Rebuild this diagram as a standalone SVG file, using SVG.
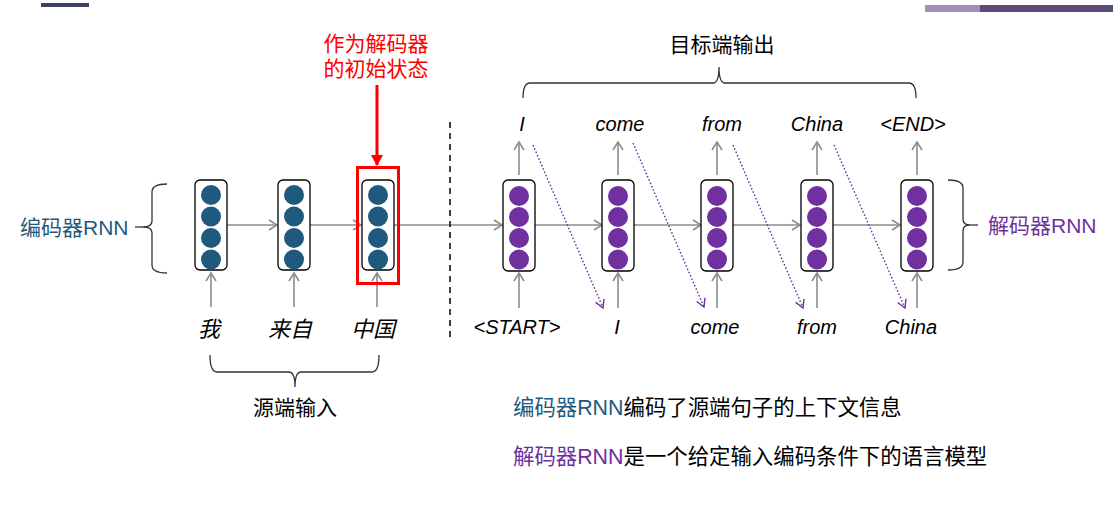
<svg xmlns="http://www.w3.org/2000/svg" width="1113" height="506" viewBox="0 0 1113 506">
<defs>
<style>
.box{fill:#fff;stroke:#000;stroke-width:1.3}
.enc{fill:#1F5A7E}
.dec{fill:#7030A0}
.ga{stroke:#8C8C8C;stroke-width:1.6;fill:none;marker-end:url(#ga)}
.pa{stroke:#7030A0;stroke-width:1.4;stroke-dasharray:1.6 2;fill:none;marker-end:url(#pa)}
.brace{stroke:#333;stroke-width:1.3;fill:none}
.cjk{font-family:"Liberation Sans","Noto Sans CJK SC",sans-serif;font-size:21px}
.big{font-size:21.4px}
.en{font-family:"Liberation Sans","Noto Sans CJK SC",sans-serif;font-size:20px;font-style:italic;text-anchor:middle}
.zh{font-family:"Noto Sans CJK SC",sans-serif;font-size:22px;font-style:italic;text-anchor:middle}
</style>
<marker id="ga" markerWidth="12" markerHeight="12" refX="9" refY="6" orient="auto" markerUnits="userSpaceOnUse">
<path d="M1,1 L9,6 L1,11" fill="none" stroke="#8C8C8C" stroke-width="1.6"/>
</marker>
<marker id="pa" markerWidth="12" markerHeight="12" refX="9" refY="6" orient="auto" markerUnits="userSpaceOnUse">
<path d="M1,1.5 L9,6 L1,10.5" fill="none" stroke="#7030A0" stroke-width="1.4"/>
</marker>
<marker id="ra" markerWidth="14" markerHeight="14" refX="10" refY="7" orient="auto" markerUnits="userSpaceOnUse">
<path d="M0,1 L11,7 L0,13 Z" fill="#FF0000"/>
</marker>
</defs>
<rect x="41" y="3" width="48" height="4" fill="#3B4262"/>
<rect x="925" y="5" width="55" height="7" fill="#A58CBA"/>
<rect x="980" y="5" width="133" height="7" fill="#5C4A7A"/>

<g id="connectors">
<line class="ga" x1="227" y1="225" x2="277" y2="225"/>
<line class="ga" x1="310" y1="225" x2="361" y2="225"/>
<line class="ga" x1="394" y1="225" x2="502" y2="225"/>
<line class="ga" x1="535" y1="225" x2="602" y2="225"/>
<line class="ga" x1="634" y1="225" x2="701" y2="225"/>
<line class="ga" x1="733" y1="225" x2="800" y2="225"/>
<line class="ga" x1="833" y1="225" x2="900" y2="225"/>
<line class="ga" x1="211" y1="307" x2="211" y2="273"/>
<line class="ga" x1="294" y1="307" x2="294" y2="273"/>
<line class="ga" x1="377" y1="307" x2="377" y2="273"/>
<line class="ga" x1="519" y1="308" x2="519" y2="273"/>
<line class="ga" x1="618" y1="308" x2="618" y2="273"/>
<line class="ga" x1="717" y1="308" x2="717" y2="273"/>
<line class="ga" x1="817" y1="308" x2="817" y2="273"/>
<line class="ga" x1="917" y1="308" x2="917" y2="273"/>
<line class="ga" x1="519" y1="175" x2="519" y2="142"/>
<line class="ga" x1="618" y1="175" x2="618" y2="142"/>
<line class="ga" x1="717" y1="175" x2="717" y2="142"/>
<line class="ga" x1="817" y1="175" x2="817" y2="142"/>
<line class="ga" x1="917" y1="175" x2="917" y2="142"/>
<line class="pa" x1="533" y1="145" x2="603" y2="308"/>
<line class="pa" x1="633" y1="143" x2="704" y2="307"/>
<line class="pa" x1="733" y1="145" x2="803" y2="308"/>
<line class="pa" x1="834" y1="145" x2="905" y2="308"/>
<line x1="450" y1="122" x2="450" y2="338" stroke="#000" stroke-width="1.5" stroke-dasharray="6 5"/>
<line x1="377" y1="85" x2="377" y2="165" stroke="#FF0000" stroke-width="3" marker-end="url(#ra)"/>
</g>

<g id="enc1"><rect class="box" x="195" y="180" width="32" height="90" rx="5"/>
<circle class="enc" cx="211" cy="195" r="10"/><circle class="enc" cx="211" cy="216.5" r="10"/><circle class="enc" cx="211" cy="238" r="10"/><circle class="enc" cx="211" cy="259.5" r="10"/></g>
<g id="enc2"><rect class="box" x="278" y="180" width="32" height="90" rx="5"/>
<circle class="enc" cx="294" cy="195" r="10"/><circle class="enc" cx="294" cy="216.5" r="10"/><circle class="enc" cx="294" cy="238" r="10"/><circle class="enc" cx="294" cy="259.5" r="10"/></g>
<g id="enc3"><rect class="box" x="362" y="180" width="32" height="90" rx="5"/>
<circle class="enc" cx="378" cy="195" r="10"/><circle class="enc" cx="378" cy="216.5" r="10"/><circle class="enc" cx="378" cy="238" r="10"/><circle class="enc" cx="378" cy="259.5" r="10"/>
<rect x="357.5" y="167.5" width="41" height="116" fill="none" stroke="#FF0000" stroke-width="3"/></g>

<g id="dec1"><rect class="box" x="503" y="180" width="32" height="91" rx="5"/>
<circle class="dec" cx="519" cy="196" r="10"/><circle class="dec" cx="519" cy="217" r="10"/><circle class="dec" cx="519" cy="238" r="10"/><circle class="dec" cx="519" cy="259.5" r="10"/></g>
<g id="dec2"><rect class="box" x="602" y="180" width="32" height="91" rx="5"/>
<circle class="dec" cx="618" cy="196" r="10"/><circle class="dec" cx="618" cy="217" r="10"/><circle class="dec" cx="618" cy="238" r="10"/><circle class="dec" cx="618" cy="259.5" r="10"/></g>
<g id="dec3"><rect class="box" x="701" y="180" width="32" height="91" rx="5"/>
<circle class="dec" cx="717" cy="196" r="10"/><circle class="dec" cx="717" cy="217" r="10"/><circle class="dec" cx="717" cy="238" r="10"/><circle class="dec" cx="717" cy="259.5" r="10"/></g>
<g id="dec4"><rect class="box" x="801" y="180" width="32" height="91" rx="5"/>
<circle class="dec" cx="817" cy="196" r="10"/><circle class="dec" cx="817" cy="217" r="10"/><circle class="dec" cx="817" cy="238" r="10"/><circle class="dec" cx="817" cy="259.5" r="10"/></g>
<g id="dec5"><rect class="box" x="901" y="180" width="32" height="91" rx="5"/>
<circle class="dec" cx="917" cy="196" r="10"/><circle class="dec" cx="917" cy="217" r="10"/><circle class="dec" cx="917" cy="238" r="10"/><circle class="dec" cx="917" cy="259.5" r="10"/></g>

<g id="braces">
<path class="brace" d="M167,184 Q152,184 152,192 L152,221 Q152,227 143,227 Q152,227 152,233 L152,265 Q152,273 167,273"/>
<line class="brace" x1="135" y1="227" x2="143" y2="227"/>
<path class="brace" d="M948,180 Q963,180 963,188 L963,219 Q963,225 970,225 Q963,225 963,231 L963,262 Q963,270 948,270"/>
<line class="brace" x1="970" y1="225" x2="978" y2="225"/>
<path class="brace" d="M523,98 Q523,83 530,83 L713,83 Q719,83 719,67 Q719,83 725,83 L909,83 Q916,83 916,98"/>
<path class="brace" d="M210,355 Q210,372 217,372 L289,372 Q295,372 295,387 Q295,372 301,372 L372,372 Q379,372 379,355"/>
</g>

<g id="labels">
<text class="cjk" x="20" y="235" fill="#1F5A7E">编码器RNN</text>
<text class="cjk" x="988" y="233" fill="#7030A0">解码器RNN</text>
<text class="cjk" x="376" y="51" fill="#FF0000" text-anchor="middle">作为解码器</text>
<text class="cjk" x="376" y="76" fill="#FF0000" text-anchor="middle">的初始状态</text>
<text class="cjk" x="722" y="52" fill="#000" text-anchor="middle">目标端输出</text>
<text class="cjk" x="295" y="415" fill="#000" text-anchor="middle">源端输入</text>
<text class="zh" x="209" y="337">我</text>
<text class="zh" x="290" y="337">来自</text>
<text class="zh" x="373" y="337">中国</text>
<text class="en" x="522" y="131">I</text>
<text class="en" x="620" y="131">come</text>
<text class="en" x="722" y="131">from</text>
<text class="en" x="817" y="131">China</text>
<text class="en" x="913" y="131">&lt;END&gt;</text>
<text class="en" x="517" y="334">&lt;START&gt;</text>
<text class="en" x="617" y="334">I</text>
<text class="en" x="715" y="334">come</text>
<text class="en" x="817" y="334">from</text>
<text class="en" x="911" y="334">China</text>
<text class="cjk big" x="513" y="415" fill="#000"><tspan fill="#1F5A7E">编码器RNN</tspan>编码了源端句子的上下文信息</text>
<text class="cjk big" x="513" y="464" fill="#000"><tspan fill="#7030A0">解码器RNN</tspan>是一个给定输入编码条件下的语言模型</text>
</g>
</svg>
